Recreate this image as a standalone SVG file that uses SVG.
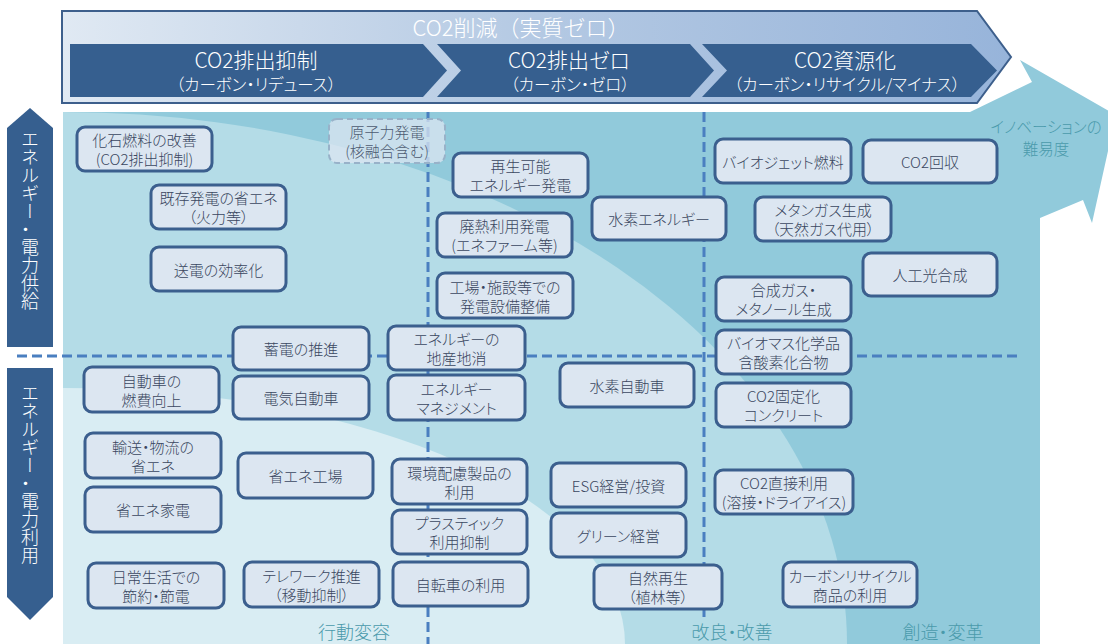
<svg xmlns="http://www.w3.org/2000/svg" width="1108" height="644" viewBox="0 0 1108 644">
<defs>
<linearGradient id="bannerGrad" x1="62" y1="0" x2="1011" y2="0" gradientUnits="userSpaceOnUse">
<stop offset="0" stop-color="#e0e9f3"/>
<stop offset="0.5" stop-color="#b4c9e3"/>
<stop offset="1" stop-color="#97b4da"/>
</linearGradient>
<style>
text{font-family:"Noto Sans CJK JP","Noto Sans",sans-serif;font-feature-settings:"palt";font-weight:300;}
.b{fill:#dce6f1;stroke:#3b5f8e;stroke-width:3;}
.t{font-size:15px;fill:#3a4660;text-anchor:middle;dominant-baseline:central;}
.dash{stroke:#4a7fc0;stroke-width:3;stroke-dasharray:10 5;fill:none;}
.chev{fill:#365f8f;}
.hw{fill:#ffffff;text-anchor:middle;}
.lab{fill:#4a9aab;text-anchor:middle;font-size:18px;}
.side{fill:#ffffff;font-size:18px;text-anchor:middle;writing-mode:vertical-rl;}
</style>
</defs>
<rect width="1108" height="644" fill="#ffffff"/>

<g id="background">
<path d="M63,116 Q63,112 67,112 L970,112 L1032,82 L1020,60 L1116,115 L1092,223 L1083,200 L1040,218 L1040,644 L63,644 Z" fill="#91cadb"/>
<path d="M63,112 A784,532 0 0 1 847,644 L63,644 Z" fill="#b4dce7"/>
<path d="M63,388 A562,256 0 0 1 625,644 L63,644 Z" fill="#d9edf3"/>
</g>

<g id="banner">
<path d="M62,11 L977,11 L1011,57 L977,103 L62,103 Z" fill="url(#bannerGrad)" stroke="#3d5f8c" stroke-width="2"/>
<text class="hw" x="521" y="36" style="font-size:22px;font-feature-settings:normal">CO2削減（実質ゼロ）</text>
<path class="chev" d="M70,44 L423,44 L447,70.5 L423,97 L70,97 Z"/>
<path class="chev" d="M437,44 L690,44 L714,70.5 L690,97 L437,97 L461,70.5 Z"/>
<path class="chev" d="M702,44 L971,44 L997,70.5 L971,97 L702,97 L727,70.5 Z"/>
<text class="hw" x="256" y="68" style="font-size:21px">CO2排出抑制</text>
<text class="hw" x="256" y="91" style="font-size:16.5px">（カーボン・リデュース）</text>
<text class="hw" x="569" y="68" style="font-size:21px">CO2排出ゼロ</text>
<text class="hw" x="570" y="91" style="font-size:16.5px">（カーボン・ゼロ）</text>
<text class="hw" x="845" y="68" style="font-size:21px">CO2資源化</text>
<text class="hw" x="847" y="91" style="font-size:16.5px">（カーボン・リサイクル/マイナス）</text>
</g>

<g id="side-supply">
<path class="chev" d="M30,108 L53,128 L53,347 L7,347 L7,128 Z"/>
<text class="side" x="30" y="220">エネルギー・電力供給</text>
</g>
<g id="side-use">
<path class="chev" d="M7,368 L53,368 L53,597 L30,620 L7,597 Z"/>
<text class="side" x="30" y="474">エネルギー・電力利用</text>
</g>

<g id="connectors">
<line class="dash" x1="17" y1="356" x2="1020" y2="356"/>
<line class="dash" x1="428" y1="112" x2="428" y2="644"/>
<line class="dash" x1="704" y1="112" x2="704" y2="622"/>
</g>

<g id="labels">
<text class="lab" x="1046" y="133" style="font-size:15.5px">イノベーションの</text>
<text class="lab" x="1046" y="155" style="font-size:15.5px">難易度</text>
<text class="lab" x="354" y="639">行動変容</text>
<text class="lab" x="732" y="639">改良・改善</text>
<text class="lab" x="943" y="639">創造・変革</text>
</g>

<g id="n1"><rect class="b" x="77" y="127" width="135" height="44" rx="8"/><text class="t" x="144.5" y="139.5">化石燃料の改善</text><text class="t" x="144.5" y="158.5">(CO2排出抑制)</text></g>
<g id="n2"><rect class="b" x="151" y="185" width="135" height="44" rx="8"/><text class="t" x="218.5" y="197.5">既存発電の省エネ</text><text class="t" x="218.5" y="216.5">（火力等）</text></g>
<g id="n3"><rect class="b" x="151" y="247" width="135" height="44" rx="8"/><text class="t" x="218.5" y="269">送電の効率化</text></g>
<g id="n4"><rect x="329" y="119" width="116" height="44" rx="8" fill="#dce6f1" fill-opacity="0.75" stroke="#98b2c9" stroke-width="2" stroke-dasharray="6 4"/><text class="t" x="387" y="131.5" style="fill:#4d5b72">原子力発電</text><text class="t" x="387" y="150.5" style="fill:#4d5b72">(核融合含む)</text></g>
<g id="n5"><rect class="b" x="453" y="153" width="135" height="44" rx="8"/><text class="t" x="520.5" y="165.5">再生可能</text><text class="t" x="520.5" y="184.5">エネルギー発電</text></g>
<g id="n6"><rect class="b" x="437" y="213" width="135" height="44" rx="8"/><text class="t" x="504.5" y="225.5">廃熱利用発電</text><text class="t" x="504.5" y="244.5">(エネファーム等)</text></g>
<g id="n7"><rect class="b" x="437" y="273" width="136" height="45" rx="8"/><text class="t" x="505" y="286">工場・施設等での</text><text class="t" x="505" y="305">発電設備整備</text></g>
<g id="n8"><rect class="b" x="592" y="197" width="134" height="43" rx="8"/><text class="t" x="659" y="218.5">水素エネルギー</text></g>
<g id="n9"><rect class="b" x="715" y="139" width="136" height="44" rx="8"/><text class="t" x="783" y="161">バイオジェット燃料</text></g>
<g id="n10"><rect class="b" x="863" y="140" width="134" height="43" rx="8"/><text class="t" x="930" y="161.5">CO2回収</text></g>
<g id="n11"><rect class="b" x="755" y="197" width="136" height="44" rx="8"/><text class="t" x="823" y="209.5">メタンガス生成</text><text class="t" x="823" y="228.5">（天然ガス代用）</text></g>
<g id="n12"><rect class="b" x="863" y="253" width="134" height="43" rx="8"/><text class="t" x="930" y="274.5">人工光合成</text></g>
<g id="n13"><rect class="b" x="716" y="277" width="135" height="44" rx="8"/><text class="t" x="783.5" y="289.5">合成ガス・</text><text class="t" x="783.5" y="308.5">メタノール生成</text></g>
<g id="n14"><rect class="b" x="716" y="330" width="135" height="44" rx="8"/><text class="t" x="783.5" y="342.5">バイオマス化学品</text><text class="t" x="783.5" y="361.5">含酸素化合物</text></g>
<g id="n15"><rect class="b" x="233" y="327" width="136" height="43" rx="8"/><text class="t" x="301" y="348.5">蓄電の推進</text></g>
<g id="n16"><rect class="b" x="388" y="326" width="137" height="44" rx="8"/><text class="t" x="456.5" y="338.5">エネルギーの</text><text class="t" x="456.5" y="357.5">地産地消</text></g>
<g id="n17"><rect class="b" x="84" y="367" width="135" height="45" rx="8"/><text class="t" x="151.5" y="380">自動車の</text><text class="t" x="151.5" y="399">燃費向上</text></g>
<g id="n18"><rect class="b" x="233" y="376" width="136" height="43" rx="8"/><text class="t" x="301" y="397.5">電気自動車</text></g>
<g id="n19"><rect class="b" x="388" y="375" width="137" height="45" rx="8"/><text class="t" x="456.5" y="388">エネルギー</text><text class="t" x="456.5" y="407">マネジメント</text></g>
<g id="n20"><rect class="b" x="560" y="363" width="134" height="44" rx="8"/><text class="t" x="627" y="385">水素自動車</text></g>
<g id="n21"><rect class="b" x="716" y="383" width="135" height="44" rx="8"/><text class="t" x="783.5" y="395.5">CO2固定化</text><text class="t" x="783.5" y="414.5">コンクリート</text></g>
<g id="n22"><rect class="b" x="85" y="433" width="136" height="45" rx="8"/><text class="t" x="153" y="446">輸送・物流の</text><text class="t" x="153" y="465">省エネ</text></g>
<g id="n23"><rect class="b" x="238" y="453" width="135" height="45" rx="8"/><text class="t" x="305.5" y="475.5">省エネ工場</text></g>
<g id="n24"><rect class="b" x="392" y="459" width="135" height="45" rx="8"/><text class="t" x="459.5" y="472">環境配慮製品の</text><text class="t" x="459.5" y="491">利用</text></g>
<g id="n25"><rect class="b" x="551" y="463" width="135" height="44" rx="8"/><text class="t" x="618.5" y="485">ESG経営/投資</text></g>
<g id="n26"><rect class="b" x="715" y="470" width="138" height="44" rx="8"/><text class="t" x="784" y="482.5">CO2直接利用</text><text class="t" x="784" y="501.5">(溶接・ドライアイス)</text></g>
<g id="n27"><rect class="b" x="85" y="487" width="136" height="45" rx="8"/><text class="t" x="153" y="509.5">省エネ家電</text></g>
<g id="n28"><rect class="b" x="392" y="510" width="135" height="44" rx="8"/><text class="t" x="459.5" y="522.5">プラスティック</text><text class="t" x="459.5" y="541.5">利用抑制</text></g>
<g id="n29"><rect class="b" x="551" y="513" width="135" height="44" rx="8"/><text class="t" x="618.5" y="535">グリーン経営</text></g>
<g id="n30"><rect class="b" x="88" y="563" width="136" height="45" rx="8"/><text class="t" x="156" y="576">日常生活での</text><text class="t" x="156" y="595">節約・節電</text></g>
<g id="n31"><rect class="b" x="244" y="562" width="135" height="45" rx="8"/><text class="t" x="311.5" y="575">テレワーク推進</text><text class="t" x="311.5" y="594">（移動抑制）</text></g>
<g id="n32"><rect class="b" x="393" y="562" width="135" height="44" rx="8"/><text class="t" x="460.5" y="584">自転車の利用</text></g>
<g id="n33"><rect class="b" x="594" y="565" width="128" height="44" rx="8"/><text class="t" x="658" y="577.5">自然再生</text><text class="t" x="658" y="596.5">（植林等）</text></g>
<g id="n34"><rect class="b" x="783" y="562" width="134" height="45" rx="8"/><text class="t" x="850" y="575">カーボンリサイクル</text><text class="t" x="850" y="594">商品の利用</text></g>
</svg>
